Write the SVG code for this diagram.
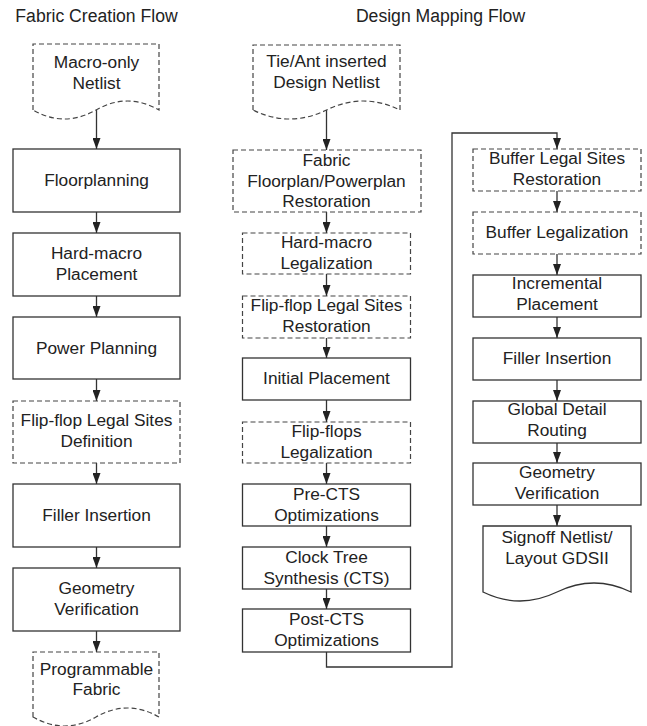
<svg xmlns="http://www.w3.org/2000/svg" width="647" height="726" viewBox="0 0 647 726">
<style>
.bg{fill:#fff}
.box{fill:#fff;stroke:#333;stroke-width:1.3}
.dash{fill:#fff;stroke:#444;stroke-width:1.2;stroke-dasharray:5 3}
.t{font-family:"Liberation Sans",Arial,sans-serif;font-size:17.3px;fill:#222;text-anchor:middle}
.title{font-family:"Liberation Sans",Arial,sans-serif;font-size:17.6px;fill:#222;text-anchor:middle}
.c{fill:none;stroke:#333;stroke-width:1.3}
</style>
<defs>
<marker id="ah" viewBox="0 0 11 8" refX="11" refY="4" markerWidth="11" markerHeight="8" markerUnits="userSpaceOnUse" orient="auto">
<path d="M0,0 L11,4 L0,8 z" fill="#222"/>
</marker>
</defs>
<rect class="bg" x="0" y="0" width="647" height="726"/>
<text class="title" x="96.5" y="22">Fabric Creation Flow</text>
<text class="title" x="440.5" y="22">Design Mapping Flow</text>

<g id="connectors">
<line class="c" x1="96.5" y1="110" x2="96.5" y2="149" marker-end="url(#ah)"/>
<line class="c" x1="96.5" y1="212" x2="96.5" y2="233" marker-end="url(#ah)"/>
<line class="c" x1="96.5" y1="296" x2="96.5" y2="317" marker-end="url(#ah)"/>
<line class="c" x1="96.5" y1="379" x2="96.5" y2="401" marker-end="url(#ah)"/>
<line class="c" x1="96.5" y1="463" x2="96.5" y2="484" marker-end="url(#ah)"/>
<line class="c" x1="96.5" y1="547" x2="96.5" y2="568" marker-end="url(#ah)"/>
<line class="c" x1="96.5" y1="631" x2="96.5" y2="652" marker-end="url(#ah)"/>
<line class="c" x1="326.5" y1="110" x2="326.5" y2="150" marker-end="url(#ah)"/>
<line class="c" x1="326.5" y1="212" x2="326.5" y2="233" marker-end="url(#ah)"/>
<line class="c" x1="326.5" y1="274" x2="326.5" y2="296" marker-end="url(#ah)"/>
<line class="c" x1="326.5" y1="338" x2="326.5" y2="358" marker-end="url(#ah)"/>
<line class="c" x1="326.5" y1="400" x2="326.5" y2="422" marker-end="url(#ah)"/>
<line class="c" x1="326.5" y1="463" x2="326.5" y2="484" marker-end="url(#ah)"/>
<line class="c" x1="326.5" y1="526" x2="326.5" y2="547" marker-end="url(#ah)"/>
<line class="c" x1="326.5" y1="589" x2="326.5" y2="609" marker-end="url(#ah)"/>
<path class="c" d="M326.5,652 V667 H452 V133 H557 V149" marker-end="url(#ah)"/>
<line class="c" x1="557" y1="191" x2="557" y2="212" marker-end="url(#ah)"/>
<line class="c" x1="557" y1="254" x2="557" y2="275" marker-end="url(#ah)"/>
<line class="c" x1="557" y1="317" x2="557" y2="338" marker-end="url(#ah)"/>
<line class="c" x1="557" y1="380" x2="557" y2="401" marker-end="url(#ah)"/>
<line class="c" x1="557" y1="443" x2="557" y2="463" marker-end="url(#ah)"/>
<line class="c" x1="557" y1="505" x2="557" y2="526" marker-end="url(#ah)"/>
</g>

<g id="macro-netlist">
<path class="dash" d="M33,110 V44 H159 V110 Q127.5,92 96,110 Q64.5,128 33,110 Z"/>
<text class="t" x="96.5" y="68">Macro-only</text>
<text class="t" x="96.5" y="89">Netlist</text>
</g>
<g id="floorplanning">
<rect class="box" x="13" y="149" width="167" height="63"/>
<text class="t" x="96.5" y="186">Floorplanning</text>
</g>
<g id="hardmacro-placement">
<rect class="box" x="13" y="233" width="167" height="63"/>
<text class="t" x="96.5" y="259">Hard-macro</text>
<text class="t" x="96.5" y="280">Placement</text>
</g>
<g id="power-planning">
<rect class="box" x="13" y="317" width="167" height="62"/>
<text class="t" x="96.5" y="354">Power Planning</text>
</g>
<g id="ff-sites-definition">
<rect class="dash" x="13" y="401" width="167" height="62"/>
<text class="t" x="96.5" y="426">Flip-flop Legal Sites</text>
<text class="t" x="96.5" y="447">Definition</text>
</g>
<g id="filler-insertion-left">
<rect class="box" x="13" y="484" width="167" height="63"/>
<text class="t" x="96.5" y="521">Filler Insertion</text>
</g>
<g id="geometry-verification-left">
<rect class="box" x="13" y="568" width="167" height="63"/>
<text class="t" x="96.5" y="593.5">Geometry</text>
<text class="t" x="96.5" y="614.5">Verification</text>
</g>
<g id="programmable-fabric">
<path class="dash" d="M33,717 V652 H159 V717 Q127.5,699 96,717 Q64.5,735 33,717 Z"/>
<text class="t" x="96.5" y="674.5">Programmable</text>
<text class="t" x="96.5" y="695">Fabric</text>
</g>

<g id="design-netlist">
<path class="dash" d="M253,110 V45 H400 V110 Q363.25,92 326.5,110 Q289.75,128 253,110 Z"/>
<text class="t" x="326.5" y="67">Tie/Ant inserted</text>
<text class="t" x="326.5" y="88">Design Netlist</text>
</g>
<g id="fabric-restoration">
<rect class="dash" x="233" y="150" width="188" height="62"/>
<text class="t" x="326.5" y="166">Fabric</text>
<text class="t" x="326.5" y="186.5">Floorplan/Powerplan</text>
<text class="t" x="326.5" y="207">Restoration</text>
</g>
<g id="hardmacro-legalization">
<rect class="dash" x="242.5" y="233" width="168" height="41"/>
<text class="t" x="326.5" y="248">Hard-macro</text>
<text class="t" x="326.5" y="269">Legalization</text>
</g>
<g id="ff-sites-restoration">
<rect class="dash" x="242.5" y="296" width="168" height="42"/>
<text class="t" x="326.5" y="311">Flip-flop Legal Sites</text>
<text class="t" x="326.5" y="332">Restoration</text>
</g>
<g id="initial-placement">
<rect class="box" x="242.5" y="358" width="168" height="42"/>
<text class="t" x="326.5" y="384">Initial Placement</text>
</g>
<g id="ff-legalization">
<rect class="dash" x="242.5" y="422" width="168" height="41"/>
<text class="t" x="326.5" y="437">Flip-flops</text>
<text class="t" x="326.5" y="457.5">Legalization</text>
</g>
<g id="pre-cts">
<rect class="box" x="242.5" y="484" width="168" height="42"/>
<text class="t" x="326.5" y="500">Pre-CTS</text>
<text class="t" x="326.5" y="521">Optimizations</text>
</g>
<g id="cts">
<rect class="box" x="242.5" y="547" width="168" height="42"/>
<text class="t" x="326.5" y="563">Clock Tree</text>
<text class="t" x="326.5" y="584">Synthesis (CTS)</text>
</g>
<g id="post-cts">
<rect class="box" x="242.5" y="609" width="168" height="43"/>
<text class="t" x="326.5" y="625">Post-CTS</text>
<text class="t" x="326.5" y="646">Optimizations</text>
</g>

<g id="buffer-sites-restoration">
<rect class="dash" x="473" y="149" width="168" height="42"/>
<text class="t" x="557" y="163.5">Buffer Legal Sites</text>
<text class="t" x="557" y="184.5">Restoration</text>
</g>
<g id="buffer-legalization">
<rect class="dash" x="473" y="212" width="168" height="42"/>
<text class="t" x="557" y="238">Buffer Legalization</text>
</g>
<g id="incremental-placement">
<rect class="box" x="473" y="275" width="168" height="42"/>
<text class="t" x="557" y="289">Incremental</text>
<text class="t" x="557" y="310">Placement</text>
</g>
<g id="filler-insertion-right">
<rect class="box" x="473" y="338" width="168" height="42"/>
<text class="t" x="557" y="364">Filler Insertion</text>
</g>
<g id="global-detail-routing">
<rect class="box" x="473" y="401" width="168" height="42"/>
<text class="t" x="557" y="415">Global Detail</text>
<text class="t" x="557" y="436">Routing</text>
</g>
<g id="geometry-verification-right">
<rect class="box" x="473" y="463" width="168" height="42"/>
<text class="t" x="557" y="477.5">Geometry</text>
<text class="t" x="557" y="498.5">Verification</text>
</g>
<g id="signoff">
<path class="box" d="M483,592 V526 H631 V592 Q594,574 557,592 Q520,610 483,592 Z"/>
<text class="t" x="557" y="542.5">Signoff Netlist/</text>
<text class="t" x="557" y="563.5">Layout GDSII</text>
</g>
</svg>
